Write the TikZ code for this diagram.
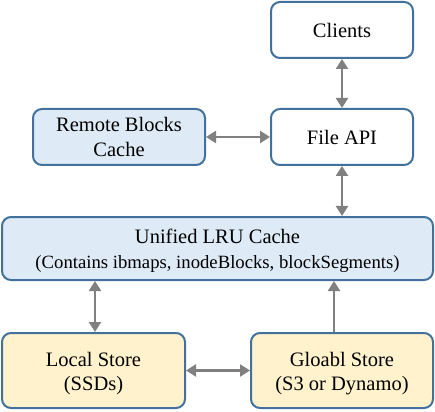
\documentclass[tikz,border=0pt]{standalone}
\usepackage{fontspec}
\setmainfont{Liberation Serif}
\usetikzlibrary{arrows.meta}
\definecolor{bordc}{HTML}{41719C}
\definecolor{bluef}{HTML}{DEEBF7}
\definecolor{yelf}{HTML}{FFF2CC}
\definecolor{arrc}{HTML}{808080}
\tikzset{
  box/.style={draw=bordc, line width=2pt, rounded corners=9pt, inner sep=0pt},
  txt/.style={align=center, inner sep=0pt, font=\fontsize{20.5}{24.5}\selectfont},
  conn/.style={draw=arrc, line width=2.2pt, {Triangle[length=10pt,width=12pt]}-{Triangle[length=10pt,width=12pt]}},
  oneway/.style={draw=arrc, line width=2.2pt, -{Triangle[length=10pt,width=12pt]}}
}
\begin{document}
\begin{tikzpicture}[x=1pt,y=-1pt]
\useasboundingbox (0,0) rectangle (435,411);
\node[box, fill=white, minimum width=142pt, minimum height=56pt] (clients) at (342,30) {};
\node[txt] (clientst) at (clients.center) {Clients};
\node[box, fill=bluef, minimum width=172pt, minimum height=56pt] (remote) at (119,137) {};
\node[txt] (remotet) at (remote.center) {Remote Blocks\\Cache};
\node[box, fill=white, minimum width=142pt, minimum height=56pt] (api) at (342,137) {};
\node[txt] (apit) at (api.center) {File API};
\node[box, fill=bluef, minimum width=431pt, minimum height=63pt] (lru) at (217.5,248.5) {};
\node[txt] (lrut) at ([yshift=-2.5pt]lru.center) {Unified LRU Cache\\[0.5pt]{\fontsize{18.7}{22}\selectfont (Contains ibmaps, inodeBlocks, blockSegments)}};
\node[box, fill=yelf, minimum width=183pt, minimum height=75pt] (local) at (93.5,370.5) {};
\node[txt] (localt) at ([yshift=-3pt]local.center) {Local Store\\(SSDs)};
\node[box, fill=yelf, minimum width=182pt, minimum height=75pt] (global) at (342,370.5) {};
\node[txt] (globalt) at ([yshift=-3pt]global.center) {Gloabl Store\\(S3 or Dynamo)};
\coordinate (gtop) at ([xshift=-8pt]global.north);
\draw[conn] (clients.south) -- (api.north);
\draw[conn] (remote.east) -- (api.west);
\draw[conn] (api.south) -- (api.south |- lru.north);
\draw[conn] ([xshift=1.5pt]local.north) -- ([xshift=1.5pt]local.north |- lru.south);
\draw[oneway] (gtop) -- (gtop |- lru.south);
\draw[conn] (local.east) -- (global.west);
\end{tikzpicture}
\end{document}
